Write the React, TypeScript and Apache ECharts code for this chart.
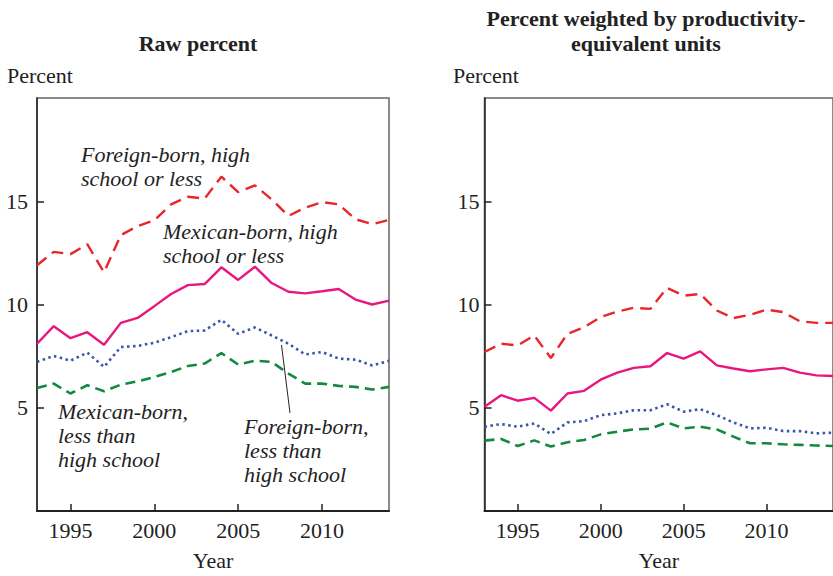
import React, { useEffect, useRef } from "react";
import * as echarts from "echarts";

const years = [1993, 1994, 1995, 1996, 1997, 1998, 1999, 2000, 2001, 2002, 2003, 2004, 2005, 2006, 2007, 2008, 2009, 2010, 2011, 2012, 2013, 2014];
const xTickYears = [1995, 2000, 2005, 2010];
const yTickValues = [5, 10, 15];

// Raw percent panel
const rawForeignHSOrLess = [11.9, 12.55, 12.44, 12.92, 11.56, 13.36, 13.8, 14.08, 14.85, 15.22, 15.13, 16.19, 15.44, 15.77, 15.09, 14.29, 14.69, 14.96, 14.85, 14.13, 13.89, 14.1];
const rawMexicanHSOrLess = [8.1, 8.95, 8.37, 8.66, 8.05, 9.11, 9.35, 9.92, 10.51, 10.94, 10.99, 11.8, 11.19, 11.83, 11.04, 10.62, 10.54, 10.64, 10.75, 10.24, 10.0, 10.19];
const rawForeignLessHS = [7.22, 7.51, 7.28, 7.67, 6.98, 7.94, 7.99, 8.15, 8.42, 8.71, 8.74, 9.26, 8.58, 8.89, 8.5, 8.1, 7.58, 7.7, 7.38, 7.33, 7.05, 7.27];
const rawMexicanLessHS = [5.96, 6.17, 5.69, 6.09, 5.8, 6.12, 6.28, 6.49, 6.73, 7.02, 7.14, 7.65, 7.09, 7.28, 7.22, 6.65, 6.17, 6.17, 6.06, 6.01, 5.88, 6.01];

// Productivity-weighted panel
const wForeignHSOrLess = [7.7, 8.1, 8.02, 8.5, 7.41, 8.58, 8.9, 9.39, 9.66, 9.84, 9.79, 10.8, 10.43, 10.51, 9.71, 9.34, 9.5, 9.75, 9.63, 9.19, 9.11, 9.11];
const wMexicanHSOrLess = [5.05, 5.61, 5.34, 5.48, 4.86, 5.69, 5.82, 6.36, 6.7, 6.93, 7.01, 7.65, 7.38, 7.73, 7.05, 6.9, 6.77, 6.86, 6.93, 6.7, 6.57, 6.54];
const wForeignLessHS = [4.08, 4.21, 4.08, 4.24, 3.73, 4.29, 4.35, 4.64, 4.73, 4.88, 4.88, 5.17, 4.81, 4.93, 4.64, 4.29, 4.0, 4.03, 3.87, 3.87, 3.76, 3.79];
const wMexicanLessHS = [3.41, 3.49, 3.15, 3.42, 3.12, 3.33, 3.44, 3.71, 3.84, 3.95, 3.99, 4.29, 4.0, 4.08, 3.95, 3.6, 3.28, 3.28, 3.23, 3.2, 3.17, 3.15];

const FONT = '"Liberation Serif", "Times New Roman", serif';
const RED = "#e8262c";
const PINK = "#e8177d";
const BLUE = "#3a55a6";
const GREEN = "#13893f";

function pairs(arr: number[]) {
  return years.map((y, i) => [y, arr[i]]);
}

function lineSeries(name: string, arr: number[], idx: number, color: string, type: any, width: number) {
  return {
    name,
    type: "line",
    xAxisIndex: idx,
    yAxisIndex: idx,
    data: pairs(arr),
    showSymbol: false,
    symbol: "none",
    lineStyle: { color, width, type },
  };
}

function xAxisFor(idx: number) {
  return {
    type: "value",
    gridIndex: idx,
    min: 1993,
    max: 2014,
    name: "Year",
    nameLocation: "middle",
    nameGap: 38,
    nameTextStyle: { fontFamily: FONT, fontSize: 22, color: "#222" },
    axisLine: { show: true, onZero: false, lineStyle: { color: "#222", width: 2 } },
    axisTick: { show: true, inside: true, length: 7, customValues: xTickYears, lineStyle: { color: "#222", width: 1.5 } },
    axisLabel: {
      customValues: xTickYears,
      formatter: (v: number) => String(v),
      fontFamily: FONT,
      fontSize: 22,
      color: "#222",
      margin: 8,
    },
    splitLine: { show: false },
  };
}

function yAxisFor(idx: number, margin: number) {
  return {
    type: "value",
    gridIndex: idx,
    min: 0,
    max: 20,
    axisLine: { show: true, onZero: false, lineStyle: { color: "#222", width: 1.5 } },
    axisTick: { show: true, inside: true, length: 7, customValues: yTickValues, lineStyle: { color: "#222", width: 1.5 } },
    axisLabel: { customValues: yTickValues, formatter: (v: number) => String(v), fontFamily: FONT, fontSize: 22, color: "#222", margin },
    splitLine: { show: false },
  };
}

function txt(text: string, x: number, y: number, font: string, align = "left") {
  return {
    type: "text",
    style: {
      text,
      x,
      y,
      font,
      fill: "#222",
      textAlign: align,
      textVerticalAlign: "middle",
      verticalAlign: "middle",
    },
  };
}

export default function App() {
  const ref = useRef<HTMLDivElement>(null);
  useEffect(() => {
    if (!ref.current) return;
    const chart = echarts.init(ref.current, null, { renderer: "svg" });
    const it = `italic 22px ${FONT}`;
    const bold = `bold 22px ${FONT}`;
    const reg = `22px ${FONT}`;
    chart.setOption({
      animation: false,
      backgroundColor: "#ffffff",
      grid: [
        { left: 37, top: 98, width: 352, height: 416, show: true, borderColor: "#666", borderWidth: 1.5 },
        { left: 484.5, top: 98, width: 352, height: 416, show: true, borderColor: "#666", borderWidth: 1.5 },
      ],
      xAxis: [xAxisFor(0), xAxisFor(1)],
      yAxis: [yAxisFor(0, 9), yAxisFor(1, 5)],
      series: [
        lineSeries("Mexican-born, less than high school", rawMexicanLessHS, 0, GREEN, [10, 6], 2.6),
        lineSeries("Foreign-born, less than high school", rawForeignLessHS, 0, BLUE, [2.5, 3.5], 2.6),
        lineSeries("Mexican-born, high school or less", rawMexicanHSOrLess, 0, PINK, "solid", 2.4),
        lineSeries("Foreign-born, high school or less", rawForeignHSOrLess, 0, RED, [12, 7], 2.4),
        lineSeries("Mexican-born, less than high school", wMexicanLessHS, 1, GREEN, [10, 6], 2.6),
        lineSeries("Foreign-born, less than high school", wForeignLessHS, 1, BLUE, [2.5, 3.5], 2.6),
        lineSeries("Mexican-born, high school or less", wMexicanHSOrLess, 1, PINK, "solid", 2.4),
        lineSeries("Foreign-born, high school or less", wForeignHSOrLess, 1, RED, [12, 7], 2.4),
      ],
      graphic: [
        txt("Raw percent", 198, 43, bold, "center"),
        txt("Percent weighted by productivity-", 646, 18, bold, "center"),
        txt("equivalent units", 646, 43, bold, "center"),
        txt("Percent", 7, 75, reg),
        txt("Percent", 453, 75, reg),
        txt("Foreign-born, high", 81, 154, it),
        txt("school or less", 81, 178, it),
        txt("Mexican-born, high", 163, 231, it),
        txt("school or less", 163, 255, it),
        txt("Mexican-born,", 58, 411, it),
        txt("less than", 58, 435, it),
        txt("high school", 58, 459, it),
        txt("Foreign-born,", 244, 426, it),
        txt("less than", 244, 450, it),
        txt("high school", 244, 474, it),
        {
          type: "line",
          shape: { x1: 281.5, y1: 345, x2: 290, y2: 413 },
          style: { stroke: "#222", lineWidth: 1 },
        },
      ],
    });
    return () => chart.dispose();
  }, []);
  return <div ref={ref} style={{ position: "fixed", left: 0, top: 0, width: 833, height: 576 }} />;
}
